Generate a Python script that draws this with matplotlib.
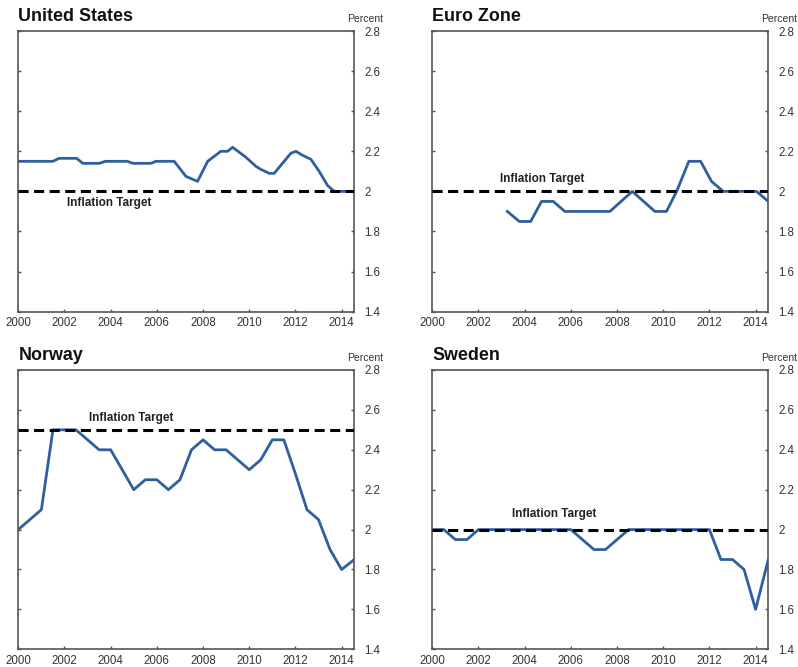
import matplotlib
matplotlib.use("Agg")
import matplotlib.pyplot as plt

plt.rcParams['font.family'] = ['Liberation Sans', 'DejaVu Sans']

# data (year, percent)
us_x = [2000.0, 2001.49, 2001.77, 2002.53, 2002.79, 2003.51, 2003.77, 2004.73, 2004.95,
        2005.74, 2005.96, 2006.75, 2007.26, 2007.76, 2008.2, 2008.77, 2009.06, 2009.28,
        2009.86, 2010.29, 2010.5, 2010.87, 2011.08, 2011.44, 2011.8, 2012.02, 2012.31,
        2012.67, 2013.03, 2013.39, 2013.68, 2014.55]
us_y = [2.15, 2.15, 2.165, 2.165, 2.14, 2.14, 2.15, 2.15, 2.14,
        2.14, 2.15, 2.15, 2.075, 2.05, 2.15, 2.2, 2.2, 2.22,
        2.17, 2.125, 2.11, 2.09, 2.09, 2.14, 2.19, 2.2, 2.18,
        2.16, 2.1, 2.03, 2.0, 2.0]

ez_x = [2003.25, 2003.77, 2004.26, 2004.73, 2005.24, 2005.74, 2007.69, 2008.66, 2009.64,
        2010.14, 2010.58, 2011.11, 2011.62, 2012.09, 2012.6, 2014.04, 2014.55]
ez_y = [1.9, 1.85, 1.85, 1.95, 1.95, 1.9, 1.9, 2.0, 1.9,
        1.9, 2.0, 2.15, 2.15, 2.05, 2.0, 2.0, 1.95]

no_x = [2000.0, 2000.5, 2001.0, 2001.5, 2002.0, 2002.5, 2003.0, 2003.5, 2004.0, 2004.5,
        2005.0, 2005.5, 2006.0, 2006.5, 2007.0, 2007.5, 2008.0, 2008.5, 2009.0, 2009.5,
        2010.0, 2010.5, 2011.0, 2011.5, 2012.0, 2012.5, 2013.0, 2013.5, 2014.0, 2014.55]
no_y = [2.0, 2.05, 2.1, 2.5, 2.5, 2.5, 2.45, 2.4, 2.4, 2.3,
        2.2, 2.25, 2.25, 2.2, 2.25, 2.4, 2.45, 2.4, 2.4, 2.35,
        2.3, 2.35, 2.45, 2.45, 2.28, 2.1, 2.05, 1.9, 1.8, 1.85]

se_x = [2000.0, 2000.5, 2001.0, 2001.5, 2002.0, 2006.0, 2007.0, 2007.5, 2008.5,
        2012.0, 2012.5, 2013.0, 2013.5, 2014.0, 2014.55]
se_y = [2.0, 2.0, 1.95, 1.95, 2.0, 2.0, 1.9, 1.9, 2.0,
        2.0, 1.85, 1.85, 1.8, 1.6, 1.85]

titles = ['United States', 'Euro Zone', 'Norway', 'Sweden']
targets = [2.0, 2.0, 2.5, 2.0]
label_pos = [(2003.94, 1.94), (2004.78, 2.063), (2004.88, 2.558), (2005.27, 2.078)]
series = [(us_x, us_y), (ez_x, ez_y), (no_x, no_y), (se_x, se_y)]

xticks = list(range(2000, 2015, 2))
yticks = [1.4, 1.6, 1.8, 2.0, 2.2, 2.4, 2.6, 2.8]
ylabels = ['1.4', '1.6', '1.8', '2', '2.2', '2.4', '2.6', '2.8']

W, H = 798, 667
boxes = [(18.3, 31, 336, 280.7), (432.3, 31, 336, 280.7),
         (18.3, 370, 336, 279.3), (432.3, 370, 336, 279.3)]

blue = '#2f5f9e'
spine_c = '#555555'
txt_c = '#333333'

fig = plt.figure(figsize=(W / 100, H / 100), dpi=100)

for (x, y), title, tgt, lp, (l, t, w, h) in zip(series, titles, targets, label_pos, boxes):
    ax = fig.add_axes([l / W, 1 - (t + h) / H, w / W, h / H])
    ax.plot(x, y, color=blue, lw=2.0, solid_joinstyle='round', zorder=2)
    ax.axhline(tgt, color='black', lw=2.2, linestyle=(0, (3.3, 1.8)), zorder=3)
    ax.text(lp[0], lp[1], 'Inflation Target', ha='center', va='center',
            fontsize=8.5, fontweight='bold', color='#222222')
    ax.set_xlim(2000, 2014.55)
    ax.set_ylim(1.4, 2.8)
    ax.set_xticks(xticks)
    ax.set_xticklabels([str(v) for v in xticks])
    ax.set_yticks(yticks)
    ax.set_yticklabels(ylabels)
    ax.yaxis.tick_right()
    ax.tick_params(axis='y', which='both', left=True, right=True, direction='in',
                   length=2.5, width=1, color=spine_c, labelsize=8.3, labelcolor=txt_c, pad=7)
    ax.tick_params(axis='x', direction='in', length=2.5, width=1, color=spine_c,
                   labelsize=8.3, labelcolor=txt_c, pad=4)
    for s in ax.spines.values():
        s.set_color(spine_c)
        s.set_linewidth(1.2)
    ax.text(0, 1 + 10.3 / h, title, transform=ax.transAxes, fontsize=12.9, fontweight='bold',
            color='#111111', ha='left', va='baseline')
    ax.annotate('Percent', xy=(1, 1), xycoords='axes fraction', xytext=(21, 6.5),
                textcoords='offset points', ha='right', va='baseline',
                fontsize=7.5, color=txt_c)

plt.savefig('out.png', dpi=100)
